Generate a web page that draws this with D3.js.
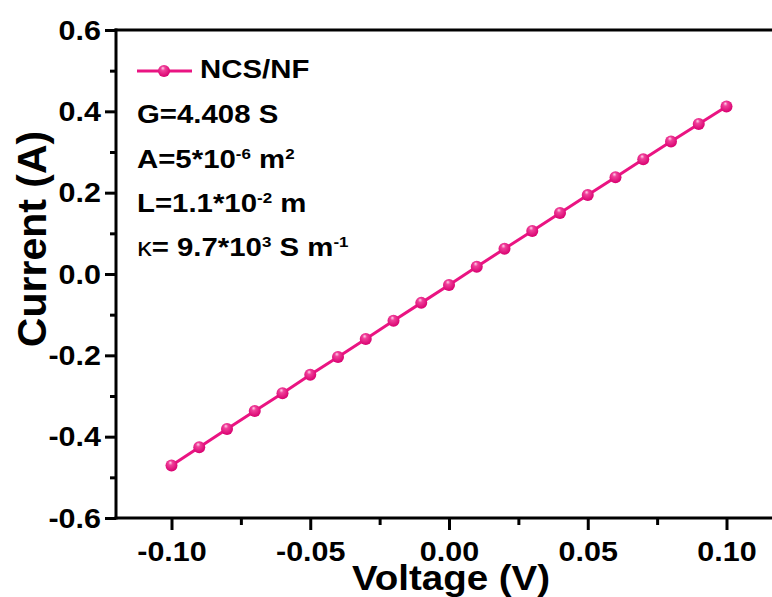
<html>
<head>
    <style>
        body {
            margin: 0;
            background: white;
            font-family: "Liberation Sans", Arial, sans-serif;
        }
        .tick text {
            font-weight: bold;
            fill: black;
        }
    </style>
    <script src="https://cdn.jsdelivr.net/npm/d3@7"></script>
</head>
<body>
    <div class="mainView"></div>
</body>
<script>
    // values
    let voltage = [-0.10, -0.09, -0.08, -0.07, -0.06, -0.05, -0.04, -0.03, -0.02, -0.01,
                   0.00, 0.01, 0.02, 0.03, 0.04, 0.05, 0.06, 0.07, 0.08, 0.09, 0.10];
    let current = [-0.471, -0.426, -0.381, -0.337, -0.293, -0.248, -0.204, -0.160, -0.115, -0.071,
                   -0.027, 0.018, 0.062, 0.106, 0.150, 0.194, 0.238, 0.282, 0.326, 0.369, 0.412];
    let xTicks = [-0.10, -0.05, 0.00, 0.05, 0.10];
    let xMinor = [-0.075, -0.025, 0.025, 0.075];
    let yTicks = [-0.6, -0.4, -0.2, 0.0, 0.2, 0.4, 0.6];
    let yMinor = [-0.5, -0.3, -0.1, 0.1, 0.3, 0.5];
    let seriesName = "NCS/NF";

    let pink = "#ea1482";
    let stretch = 1.13;   // the original figure is a little wider than tall

    let width = 772, height = 597;
    let svg = d3.select(".mainView").append("svg")
        .attr("width", width)
        .attr("height", height);

    let defs = svg.append("defs");
    let grad = defs.append("radialGradient")
        .attr("id", "ball")
        .attr("cx", "0.45").attr("cy", "0.4").attr("r", "0.6")
        .attr("fx", "0.4").attr("fy", "0.25");
    grad.append("stop").attr("offset", "0%").attr("stop-color", "#ffd6ec");
    grad.append("stop").attr("offset", "30%").attr("stop-color", "#f0409a");
    grad.append("stop").attr("offset", "100%").attr("stop-color", "#d8006f");

    let xScale = d3.scaleLinear().domain([-0.12, 0.12]).range([116, 782]);
    let yScale = d3.scaleLinear().domain([-0.6, 0.6]).range([518, 30]);

    // minor ticks
    svg.append("g")
        .attr("transform", "translate(0," + yScale(-0.6) + ")")
        .call(d3.axisBottom(xScale).tickValues(xMinor).tickSize(7).tickFormat(""))
        .call(g => g.select(".domain").remove())
        .selectAll("line").attr("stroke-width", 3);
    svg.append("g")
        .attr("transform", "translate(" + xScale(-0.12) + ",0)")
        .call(d3.axisLeft(yScale).tickValues(yMinor).tickSize(6).tickFormat(""))
        .call(g => g.select(".domain").remove())
        .selectAll("line").attr("stroke-width", 3);

    // major ticks + labels
    let xAxis = svg.append("g")
        .attr("transform", "translate(0," + yScale(-0.6) + ")")
        .call(d3.axisBottom(xScale).tickValues(xTicks).tickSize(12)
            .tickFormat(d => d.toFixed(2)));
    xAxis.select(".domain").remove();
    xAxis.selectAll("line").attr("stroke-width", 3);
    xAxis.selectAll("text")
        .attr("font-size", 27)
        .attr("font-family", "Liberation Sans, Arial, sans-serif")
        .attr("y", 43).attr("dy", null)
        .attr("transform", "scale(" + stretch + ",1)");

    let yAxis = svg.append("g")
        .attr("transform", "translate(" + xScale(-0.12) + ",0)")
        .call(d3.axisLeft(yScale).tickValues(yTicks).tickSize(11)
            .tickFormat(d => d.toFixed(1)));
    yAxis.select(".domain").remove();
    yAxis.selectAll("line").attr("stroke-width", 3);
    yAxis.selectAll("text")
        .attr("font-size", 27)
        .attr("font-family", "Liberation Sans, Arial, sans-serif")
        .attr("x", -15 / stretch).attr("dy", "0.34em")
        .attr("transform", "scale(" + stretch + ",1)");

    // frame: left, bottom, top, right
    let frame = [
        [[-0.12, -0.6], [-0.12, 0.6]],
        [[-0.12, -0.6], [0.12, -0.6]],
        [[-0.12, 0.6], [0.12, 0.6]],
        [[0.12, -0.6], [0.12, 0.6]]
    ];
    svg.append("g").selectAll("line").data(frame).enter().append("line")
        .attr("x1", d => xScale(d[0][0])).attr("y1", d => yScale(d[0][1]))
        .attr("x2", d => xScale(d[1][0])).attr("y2", d => yScale(d[1][1]))
        .attr("stroke", "black").attr("stroke-width", 3)
        .attr("stroke-linecap", "square");

    // series
    let points = voltage.map((v, i) => ({ v: v, c: current[i] }));
    svg.append("path")
        .datum(points)
        .attr("fill", "none")
        .attr("stroke", pink)
        .attr("stroke-width", 3)
        .attr("d", d3.line().x(d => xScale(d.v)).y(d => yScale(d.c)));
    svg.append("g").selectAll("circle").data(points).enter().append("circle")
        .attr("cx", d => xScale(d.v))
        .attr("cy", d => yScale(d.c))
        .attr("r", 6)
        .attr("fill", "url(#ball)");

    // legend
    let legend = svg.append("g");
    legend.append("line")
        .attr("x1", 137).attr("x2", 192).attr("y1", 71).attr("y2", 71)
        .attr("stroke", pink).attr("stroke-width", 3);
    legend.append("circle")
        .attr("cx", 164).attr("cy", 71).attr("r", 6)
        .attr("fill", "url(#ball)");

    function label(x, y, size) {
        return svg.append("text")
            .attr("transform", "translate(" + x + "," + y + ") scale(" + stretch + ",1)")
            .attr("font-size", size)
            .attr("font-weight", "bold")
            .attr("fill", "black");
    }
    function sup(t, s) {
        t.append("tspan").attr("baseline-shift", "62%").attr("font-size", 15).text(s);
    }

    label(200, 78, 26).text(seriesName);
    label(137, 123, 26).text("G=4.408 S");

    let a = label(137, 168, 26);
    a.append("tspan").text("A=5*10");
    sup(a, "-6");
    a.append("tspan").text(" m");
    sup(a, "2");

    let l = label(137, 212, 26);
    l.append("tspan").text("L=1.1*10");
    sup(l, "-2");
    l.append("tspan").text(" m");

    let k = label(137, 256, 26);
    k.append("tspan").attr("font-weight", "normal").text("\u03ba");
    k.append("tspan").text("= 9.7*10");
    sup(k, "3");
    k.append("tspan").text(" S m");
    sup(k, "-1");

    // axis titles
    svg.append("text")
        .attr("transform", "translate(451,590) scale(1.1,1)")
        .attr("text-anchor", "middle")
        .attr("font-size", 35)
        .attr("font-weight", "bold")
        .text("Voltage (V)");
    svg.append("text")
        .attr("transform", "translate(46,239) rotate(-90)")
        .attr("text-anchor", "middle")
        .attr("font-size", 41)
        .attr("font-weight", "bold")
        .text("Current (A)");
</script>
</html>
